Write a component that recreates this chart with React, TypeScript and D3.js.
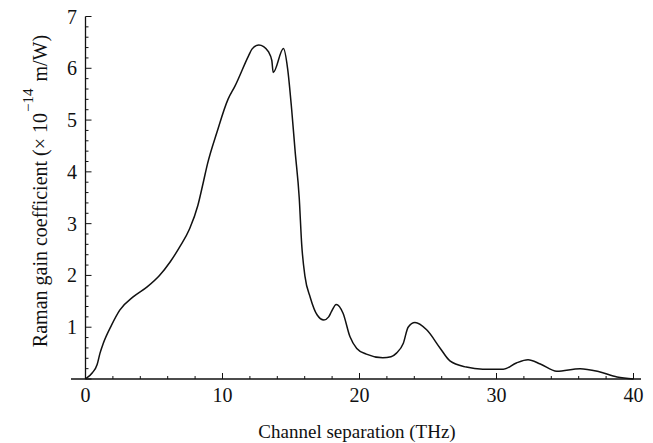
import React from "react";
import * as d3 from "d3";

const xValues = [0, 0.5, 0.85, 1.06, 1.3, 1.9, 2.5, 3.5, 4.5, 5.4, 6.2, 6.9, 7.6, 8.2, 8.6, 8.9, 9.6, 10.4, 10.9, 11.9, 12.15, 12.65, 13.0, 13.35, 13.6, 13.7, 14.45, 14.75, 15.05, 15.3, 15.6, 15.78, 16.02, 16.4, 16.9, 17.4, 17.75, 17.95, 18.3, 18.8, 19.3, 19.8, 20.5, 21.7, 22.3, 22.7, 23.2, 23.55, 24.05, 24.9, 25.9, 26.6, 27.8, 29.0, 30.5, 31.45, 32.3, 33.2, 34.4, 36.1, 37.5, 38.8, 40];
const gainValues = [0, 0.12, 0.28, 0.5, 0.69, 1.04, 1.33, 1.59, 1.78, 2.0, 2.27, 2.56, 2.9, 3.35, 3.8, 4.15, 4.77, 5.4, 5.65, 6.24, 6.37, 6.45, 6.42, 6.32, 6.15, 5.92, 6.38, 6.0, 5.2, 4.4, 3.5, 2.6, 1.98, 1.58, 1.24, 1.14, 1.2, 1.3, 1.44, 1.27, 0.82, 0.59, 0.48, 0.41, 0.43, 0.5, 0.69, 1.0, 1.09, 0.95, 0.59, 0.35, 0.23, 0.19, 0.19, 0.31, 0.37, 0.29, 0.15, 0.2, 0.14, 0.04, 0];

const xTickLabels = [0, 10, 20, 30, 40];
const yTickLabels = [1, 2, 3, 4, 5, 6, 7];

const W = 653;
const H = 443;
const FONT = "'Liberation Serif', 'Times New Roman', serif";

export default function App() {
  const x = d3.scaleLinear().domain([0, 40]).range([85.5, 633.5]);
  const y = d3.scaleLinear().domain([0, 7]).range([379, 16.5]);
  const data = xValues.map((v, i) => [v, gainValues[i]] as [number, number]);
  const line = d3
    .line<[number, number]>()
    .x((d) => x(d[0]))
    .y((d) => y(d[1]))
    .curve(d3.curveMonotoneX);

  const xMinor = d3.range(0, 40.001, 2);
  const yMinor = d3.range(0, 7.001, 0.2);
  const x0 = x(0);
  const y0 = y(0);

  return (
    <svg
      width={W}
      height={H}
      style={{ position: "absolute", left: 0, top: 0, background: "#fff" }}
      fontFamily={FONT}
    >
      <rect width={W} height={H} fill="#fff" />
      <line x1={71} x2={641} y1={y0} y2={y0} stroke="#111" strokeWidth={1.3} />
      <line x1={x0} x2={x0} y1={y0} y2={y(7)} stroke="#111" strokeWidth={1.3} />
      {xMinor.map((t) => {
        const major = Math.abs(t % 10) < 1e-6;
        return (
          <line
            key={"xt" + t}
            x1={x(t)}
            x2={x(t)}
            y1={y0}
            y2={y0 - (major ? 6 : 3)}
            stroke="#111"
            strokeWidth={1}
          />
        );
      })}
      {yMinor.map((t, i) => {
        const major = i % 5 === 0;
        return (
          <line
            key={"yt" + i}
            x1={x0}
            x2={x0 + (major ? 6 : 3)}
            y1={y(t)}
            y2={y(t)}
            stroke="#111"
            strokeWidth={1}
          />
        );
      })}
      {xTickLabels.map((t) => (
        <text key={"xl" + t} x={x(t)} y={402} textAnchor="middle" fontSize={20} fill="#111">
          {t}
        </text>
      ))}
      {yTickLabels.map((t) => (
        <text
          key={"yl" + t}
          x={77}
          y={y(t)}
          dy="0.35em"
          textAnchor="end"
          fontSize={20}
          fill="#111"
        >
          {t}
        </text>
      ))}
      <text x={357} y={438} textAnchor="middle" fontSize={19} fill="#111">
        Channel separation (THz)
      </text>
      <text
        transform="translate(47,191) rotate(-90)"
        textAnchor="middle"
        fontSize={20}
        fill="#111"
      >
        Raman gain coefficient (× 10
        <tspan fontSize={15} dx={1} dy={-14}>−14</tspan>
        <tspan dy={14} dx={7}>m/W)</tspan>
      </text>
      <path d={line(data) || ""} fill="none" stroke="#111" strokeWidth={1.5} strokeLinejoin="round" />
    </svg>
  );
}
